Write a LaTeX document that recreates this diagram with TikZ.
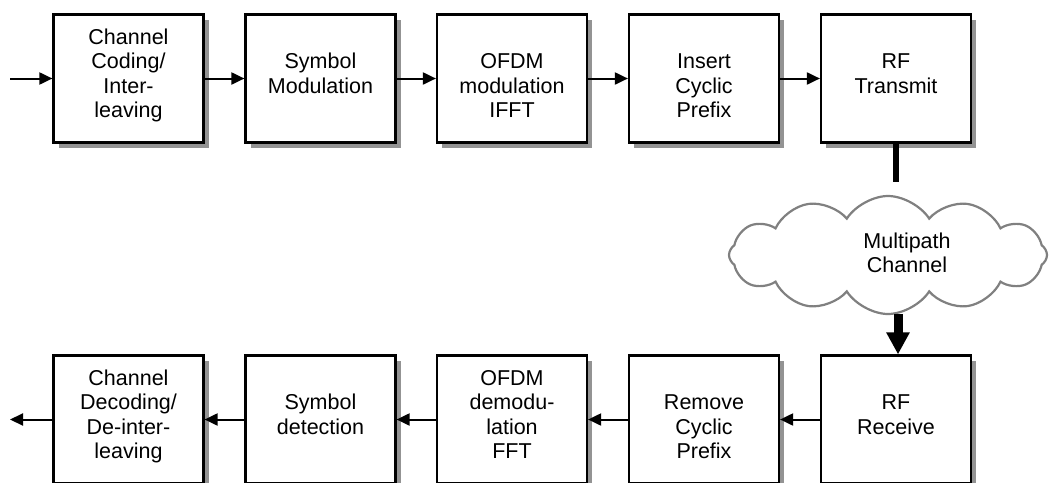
\documentclass[tikz,border=0pt]{standalone}
\usepackage{fontspec}
\setmainfont{Liberation Sans}
\usetikzlibrary{arrows.meta,shadows,shapes.symbols}
\begin{document}
\begin{tikzpicture}[x=1pt,y=-1pt,
  blk/.style={draw, line width=2.2pt, fill=white, minimum width=150pt,
    minimum height=128pt, inner sep=0pt,
    drop shadow={shadow xshift=5pt, shadow yshift=-5pt, fill=gray!85, opacity=1}},
  lbl/.style={anchor=north, align=center, inner sep=0pt,
    font=\fontsize{21.5}{24.5}\selectfont},
  flow/.style={line width=2pt, -{Triangle[length=13pt,width=12pt]}},
  trunk/.style={line width=6.5pt},
  bigflow/.style={line width=9pt, -{Triangle[length=22pt,width=22pt]}},
  puffy/.style={cloud, draw=gray, line width=2.2pt, fill=white,
    cloud puffs=12, cloud puff arc=115, aspect=2.7,
    minimum width=318pt, minimum height=118pt, inner sep=0pt}]
\useasboundingbox (0,0) rectangle (1049,482);
\clip (0,0) rectangle (1049,482);

% transmitter chain
\node[blk] (t1) at (128.5,78.5) {};
\node[blk] (t2) at (320.5,78.5) {};
\node[blk] (t3) at (512,78.5) {};
\node[blk] (t4) at (704,78.5) {};
\node[blk] (t5) at (896,78.5) {};
\node[lbl] at (128.5,26.9) {\strut Channel\\Coding/\\Inter-\\leaving};
\node[lbl] at (320.5,51.3) {\strut Symbol\\Modulation};
\node[lbl] at (512,51.3) {\strut OFDM\\modulation\\IFFT};
\node[lbl] at (704,51.3) {\strut Insert\\Cyclic\\Prefix};
\node[lbl] at (896,51.3) {\strut RF\\Transmit};

% receiver chain
\node[blk] (r1) at (128.5,419.5) {};
\node[blk] (r2) at (320.5,419.5) {};
\node[blk] (r3) at (512,419.5) {};
\node[blk] (r4) at (704,419.5) {};
\node[blk] (r5) at (896,419.5) {};
\node[lbl] at (128.5,367.9) {\strut Channel\\Decoding/\\De-inter-\\leaving};
\node[lbl] at (320.5,392.3) {\strut Symbol\\detection};
\node[lbl] at (512,367.9) {\strut OFDM\\demodu-\\lation\\FFT};
\node[lbl] at (704,392.3) {\strut Remove\\Cyclic\\Prefix};
\node[lbl] at (896,392.3) {\strut RF\\Receive};

% channel
\node[puffy] (cl) at (888,255) {};
\node[lbl] at (907,231) {\strut Multipath\\Channel};

\coordinate (src) at (10,78.5);
\coordinate (snk) at (10,419.5);
\coordinate (txend) at (896,182);
\coordinate (clout) at (898,314);

\draw[flow] (src) -- (t1);
\draw[flow] (t1) -- (t2);
\draw[flow] (t2) -- (t3);
\draw[flow] (t3) -- (t4);
\draw[flow] (t4) -- (t5);
\draw[trunk] (t5) -- (txend);
\draw[bigflow] (clout) -- (clout |- r5.north);
\draw[flow] (r5) -- (r4);
\draw[flow] (r4) -- (r3);
\draw[flow] (r3) -- (r2);
\draw[flow] (r2) -- (r1);
\draw[flow] (r1) -- (snk);
\end{tikzpicture}
\end{document}
